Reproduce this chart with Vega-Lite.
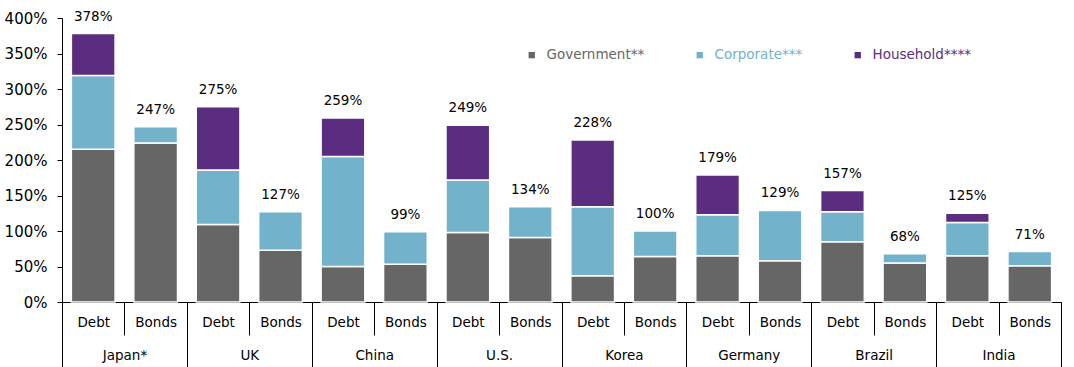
{
  "$schema": "https://vega.github.io/schema/vega-lite/v6.json",
  "width": 999,
  "height": 284,
  "autosize": {"type": "none"},
  "padding": {"left": 62, "top": 18, "right": 13, "bottom": 65},
  "config": {
    "view": {"stroke": null},
    "font": "DejaVu Sans",
    "axis": {"grid": false, "domainColor": "#000000", "tickColor": "#000000", "labelColor": "#000000", "labelFont": "DejaVu Sans", "domainWidth": 1, "tickWidth": 1},
    "legend": {"labelFont": "DejaVu Sans"}
  },
  "datasets": {
    "d": [
      {"key": "Japan*|Debt", "country": "Japan*", "type": "Debt", "sector": "Government**", "value": 215},
      {"key": "Japan*|Debt", "country": "Japan*", "type": "Debt", "sector": "Corporate***", "value": 104},
      {"key": "Japan*|Debt", "country": "Japan*", "type": "Debt", "sector": "Household****", "value": 59},
      {"key": "Japan*|Bonds", "country": "Japan*", "type": "Bonds", "sector": "Government**", "value": 224},
      {"key": "Japan*|Bonds", "country": "Japan*", "type": "Bonds", "sector": "Corporate***", "value": 23},
      {"key": "UK|Debt", "country": "UK", "type": "Debt", "sector": "Government**", "value": 109},
      {"key": "UK|Debt", "country": "UK", "type": "Debt", "sector": "Corporate***", "value": 77},
      {"key": "UK|Debt", "country": "UK", "type": "Debt", "sector": "Household****", "value": 89},
      {"key": "UK|Bonds", "country": "UK", "type": "Bonds", "sector": "Government**", "value": 73},
      {"key": "UK|Bonds", "country": "UK", "type": "Bonds", "sector": "Corporate***", "value": 54},
      {"key": "China|Debt", "country": "China", "type": "Debt", "sector": "Government**", "value": 50},
      {"key": "China|Debt", "country": "China", "type": "Debt", "sector": "Corporate***", "value": 155},
      {"key": "China|Debt", "country": "China", "type": "Debt", "sector": "Household****", "value": 54},
      {"key": "China|Bonds", "country": "China", "type": "Bonds", "sector": "Government**", "value": 53},
      {"key": "China|Bonds", "country": "China", "type": "Bonds", "sector": "Corporate***", "value": 46},
      {"key": "U.S.|Debt", "country": "U.S.", "type": "Debt", "sector": "Government**", "value": 98},
      {"key": "U.S.|Debt", "country": "U.S.", "type": "Debt", "sector": "Corporate***", "value": 74},
      {"key": "U.S.|Debt", "country": "U.S.", "type": "Debt", "sector": "Household****", "value": 77},
      {"key": "U.S.|Bonds", "country": "U.S.", "type": "Bonds", "sector": "Government**", "value": 91},
      {"key": "U.S.|Bonds", "country": "U.S.", "type": "Bonds", "sector": "Corporate***", "value": 43},
      {"key": "Korea|Debt", "country": "Korea", "type": "Debt", "sector": "Government**", "value": 37},
      {"key": "Korea|Debt", "country": "Korea", "type": "Debt", "sector": "Corporate***", "value": 97},
      {"key": "Korea|Debt", "country": "Korea", "type": "Debt", "sector": "Household****", "value": 94},
      {"key": "Korea|Bonds", "country": "Korea", "type": "Bonds", "sector": "Government**", "value": 64},
      {"key": "Korea|Bonds", "country": "Korea", "type": "Bonds", "sector": "Corporate***", "value": 36},
      {"key": "Germany|Debt", "country": "Germany", "type": "Debt", "sector": "Government**", "value": 65},
      {"key": "Germany|Debt", "country": "Germany", "type": "Debt", "sector": "Corporate***", "value": 58},
      {"key": "Germany|Debt", "country": "Germany", "type": "Debt", "sector": "Household****", "value": 56},
      {"key": "Germany|Bonds", "country": "Germany", "type": "Bonds", "sector": "Government**", "value": 58},
      {"key": "Germany|Bonds", "country": "Germany", "type": "Bonds", "sector": "Corporate***", "value": 71},
      {"key": "Brazil|Debt", "country": "Brazil", "type": "Debt", "sector": "Government**", "value": 85},
      {"key": "Brazil|Debt", "country": "Brazil", "type": "Debt", "sector": "Corporate***", "value": 42},
      {"key": "Brazil|Debt", "country": "Brazil", "type": "Debt", "sector": "Household****", "value": 30},
      {"key": "Brazil|Bonds", "country": "Brazil", "type": "Bonds", "sector": "Government**", "value": 55},
      {"key": "Brazil|Bonds", "country": "Brazil", "type": "Bonds", "sector": "Corporate***", "value": 13},
      {"key": "India|Debt", "country": "India", "type": "Debt", "sector": "Government**", "value": 65},
      {"key": "India|Debt", "country": "India", "type": "Debt", "sector": "Corporate***", "value": 47},
      {"key": "India|Debt", "country": "India", "type": "Debt", "sector": "Household****", "value": 13},
      {"key": "India|Bonds", "country": "India", "type": "Bonds", "sector": "Government**", "value": 51},
      {"key": "India|Bonds", "country": "India", "type": "Bonds", "sector": "Corporate***", "value": 20}
    ]
  },
  "data": {"name": "d"},
  "layer": [
    {
      "layer": [
        {
          "transform": [{"calculate": "indexof(['Government**','Corporate***','Household****'], datum.sector)", "as": "rank"}],
          "mark": {"type": "bar", "stroke": "white", "strokeWidth": 1.5, "width": {"band": 0.7}},
          "encoding": {
            "x": {
              "field": "key", "type": "nominal",
              "scale": {"domain": ["Japan*|Debt","Japan*|Bonds","UK|Debt","UK|Bonds","China|Debt","China|Bonds","U.S.|Debt","U.S.|Bonds","Korea|Debt","Korea|Bonds","Germany|Debt","Germany|Bonds","Brazil|Debt","Brazil|Bonds","India|Debt","India|Bonds"], "paddingInner": 0, "paddingOuter": 0},
              "axis": {"title": null, "orient": "bottom", "tickBand": "extent", "tickSize": 33, "labelExpr": "split(datum.value, '|')[1]", "labelAngle": 0, "labelFontSize": 13.5, "labelPadding": -20}
            },
            "y": {
              "field": "value", "type": "quantitative", "stack": "zero",
              "scale": {"domain": [0, 400], "nice": false},
              "axis": {"title": null, "values": [0, 50, 100, 150, 200, 250, 300, 350, 400], "labelExpr": "datum.value + '%'", "tickSize": 5, "labelPadding": 10, "labelFontSize": 15, "labelOverlap": false}
            },
            "color": {
              "field": "sector", "type": "nominal",
              "scale": {"domain": ["Government**", "Corporate***", "Household****"], "range": ["#666666", "#72B2CB", "#5B2D81"]},
              "legend": {
                "title": null, "orient": "none", "direction": "horizontal", "legendX": 463, "legendY": 30,
                "symbolType": "square", "symbolSize": 40, "symbolStrokeWidth": 0, "labelFontSize": 13.5, "labelOffset": 8, "columnPadding": 48, "padding": 0,
                "labelColor": {"expr": "scale('color', datum.value)"}
              }
            },
            "order": {"field": "rank", "type": "quantitative"}
          }
        },
        {
          "transform": [
            {"aggregate": [{"op": "sum", "field": "value", "as": "total"}], "groupby": ["key"]},
            {"calculate": "datum.total + '%'", "as": "label"}
          ],
          "mark": {"type": "text", "dy": -13, "baseline": "alphabetic", "fontSize": 13.5, "color": "#000000"},
          "encoding": {
            "x": {
              "field": "key", "type": "nominal",
              "axis": {"title": null, "orient": "bottom", "tickBand": "extent", "tickSize": 33, "labelExpr": "split(datum.value, '|')[1]", "labelAngle": 0, "labelFontSize": 13.5, "labelPadding": -20}
            },
            "y": {
              "field": "total", "type": "quantitative",
              "axis": {"title": null, "values": [0, 50, 100, 150, 200, 250, 300, 350, 400], "labelExpr": "datum.value + '%'", "tickSize": 5, "labelPadding": 10, "labelFontSize": 15, "labelOverlap": false}
            },
            "text": {"field": "label"}
          }
        }
      ]
    },
    {
      "mark": {"type": "tick", "opacity": 0},
      "encoding": {
        "x": {
          "field": "country", "type": "nominal", "sort": null,
          "scale": {"paddingInner": 0, "paddingOuter": 0},
          "axis": {"title": null, "orient": "bottom", "domain": false, "tickBand": "extent", "tickSize": 65, "labelAngle": 0, "labelFontSize": 13.5, "labelPadding": -19, "offset": 0}
        }
      }
    }
  ],
  "resolve": {"scale": {"x": "independent"}}
}
